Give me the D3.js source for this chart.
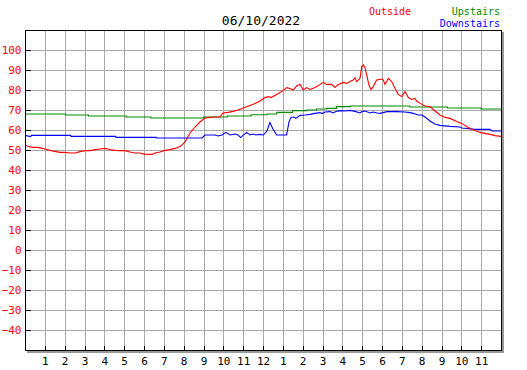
<!DOCTYPE html>
<html>
<head>
<meta charset="utf-8">
<script src="https://cdn.jsdelivr.net/npm/d3@7"></script>
<style>
  html, body { margin: 0; padding: 0; background: #fff; }
  svg { display: block; }
  text { font-family: "DejaVu Sans Mono", "Liberation Mono", monospace; }
</style>
</head>
<body>
<svg id="chart" width="527" height="370"></svg>
<script>
const title = "06/10/2022";
const seriesNames = ["Outside", "Upstairs", "Downstairs"];
const seriesColors = ["#ff0000", "#008c00", "#0000ff"];

const outsideHours = [0,0.15,0.4,0.66,0.86,1.01,1.26,1.51,1.76,2.02,2.27,2.52,2.77,3.03,3.28,3.53,3.78,4.03,4.18,4.29,4.54,4.79,5.04,5.29,5.55,5.8,6.05,6.4,6.55,6.81,7.06,7.31,7.56,7.82,8.07,8.32,8.57,8.82,9.08,9.33,9.58,9.83,9.98,10.24,10.49,10.74,10.94,11.14,11.34,11.6,11.85,12.1,12.27,12.4,12.69,12.94,13.2,13.36,13.53,13.7,13.87,14.03,14.2,14.37,14.62,14.79,15.04,15.21,15.46,15.63,15.8,16.05,16.22,16.39,16.55,16.64,16.72,16.89,16.98,17.06,17.14,17.23,17.34,17.45,17.56,17.73,17.99,18.07,18.15,18.32,18.49,18.66,18.82,18.99,19.16,19.25,19.33,19.5,19.66,19.75,19.92,20.17,20.42,20.67,20.92,21.18,21.43,21.77,22.02,22.19,22.44,22.69,22.94,23.19,23.45,23.7,24];
const outsideTemps = [52.8,51.7,51.3,51.3,50.8,50.5,49.8,49.3,48.8,48.8,48.5,48.5,49.2,49.7,49.7,50.2,50.5,50.8,50.5,50.2,49.8,49.7,49.7,49.0,48.5,48.5,47.8,47.8,48.5,49.0,49.8,50.2,50.8,51.7,54.0,58.5,61.5,64.0,66.0,66.3,66.5,66.5,68.5,68.8,69.3,70.0,70.7,71.5,72.3,73.3,74.5,76.2,76.7,76.2,77.8,79.2,81.2,80.8,80.0,82.2,82.8,80.0,81.2,80.3,81.3,82.2,83.8,82.8,82.8,81.3,82.8,83.8,83.3,84.2,85.0,86.2,84.2,85.8,91.7,92.5,91.2,87.5,82.5,80.3,81.7,85.0,85.5,85.0,82.8,85.8,84.2,80.8,77.8,76.7,79.2,77.8,76.2,75.3,75.8,74.5,73.3,72.0,71.7,69.5,67.5,66.3,65.8,64.2,63.3,62.2,60.8,59.7,58.8,58.3,57.8,57.2,56.8];

const upstairsHours = [0,2.05,3.2,5.1,6.35,9.0,10.2,11.4,12.2,12.7,13.5,14.2,14.7,15.2,15.7,16.4,19.4,21.3,23.0,24];
const upstairsTemps = [68,67.5,67,66.5,66,66.5,67,67.6,68,68.8,69.7,70,70.5,70.8,71.7,72,71.5,71,70.5,70.5];

const downstairsHours = [0,0.28,0.33,2.3,2.32,4.57,4.59,6.62,6.64,8.92,9.08,9.58,9.73,9.93,10.13,10.34,10.59,10.74,10.88,10.99,11.18,11.34,11.5,11.65,11.85,12.02,12.2,12.35,12.5,12.69,13.19,13.31,13.41,13.56,13.66,13.87,14.12,14.37,14.62,14.87,14.97,15.13,15.38,15.53,15.68,15.88,16.13,16.39,16.64,16.89,16.99,17.14,17.4,17.55,17.75,17.9,18.25,18.76,19.16,19.41,19.61,19.82,20.02,20.17,20.42,20.67,20.92,21.43,21.93,22.03,22.69,23.45,23.55,24];
const downstairsTemps = [57.3,56.7,57.3,57.3,56.8,56.8,56.3,56.3,56.0,56.0,57.5,57.5,57.0,57.5,58.8,57.5,58.0,57.5,56.2,57.3,58.8,57.5,58.0,57.5,57.8,57.5,59.5,63.8,60.5,57.5,57.5,64.0,66.3,66.5,65.8,67.3,67.5,67.8,68.3,68.7,68.2,69.0,69.2,68.5,69.3,69.7,69.5,69.8,69.3,68.5,69.2,69.5,68.5,69.0,68.5,68.3,69.2,69.2,69.0,68.7,68.2,67.5,67.5,66.5,64.5,63.0,62.3,61.8,61.5,61.0,60.3,60.3,59.5,59.5];

const yTickValues = [-40,-30,-20,-10,0,10,20,30,40,50,60,70,80,90,100];
const xTickValues = [1,2,3,4,5,6,7,8,9,10,11,12,13,14,15,16,17,18,19,20,21,22,23];
const xTickLabels = ["1","2","3","4","5","6","7","8","9","10","11","12","1","2","3","4","5","6","7","8","9","10","11"];

const svg = d3.select("#chart");
const L = 25, R = 501, T = 30, B = 350;
const x = d3.scaleLinear().domain([0, 24]).range([L, R]);
const y = d3.scaleLinear().domain([-50, 110]).range([B, T]);

// shadow
svg.append("rect").attr("x", L + 2).attr("y", T + 2).attr("width", R - L + 1).attr("height", B - T + 1)
  .attr("fill", "#999");
svg.append("rect").attr("x", L).attr("y", T).attr("width", R - L).attr("height", B - T).attr("fill", "#fff");

// grid
const grid = svg.append("g").attr("shape-rendering", "crispEdges").attr("stroke", "#a8a8a8").attr("stroke-width", 1);
xTickValues.forEach(h => {
  const px = Math.round(x(h)) + 0.5;
  grid.append("line").attr("x1", px).attr("x2", px).attr("y1", T).attr("y2", B);
});
yTickValues.forEach(v => {
  const py = Math.round(y(v)) + 0.5;
  grid.append("line").attr("x1", L).attr("x2", R).attr("y1", py).attr("y2", py);
});

// axes
const yAxis = d3.axisLeft(y).tickValues(yTickValues).tickSize(-5).tickPadding(4);
const gy = svg.append("g").attr("transform", `translate(${L + 0.5},0)`).call(yAxis);
gy.select(".domain").remove();
gy.selectAll(".tick line").attr("stroke", "#000").attr("shape-rendering", "crispEdges");
gy.selectAll(".tick text").attr("fill", "#ff0000").attr("font-size", 11)
  .attr("font-family", "DejaVu Sans Mono, monospace");

const xAxis = d3.axisBottom(x).tickValues(xTickValues).tickSize(-5).tickPadding(7)
  .tickFormat((d, i) => xTickLabels[i]);
const gx = svg.append("g").attr("transform", `translate(0,${B + 0.5})`).call(xAxis);
gx.select(".domain").remove();
gx.selectAll(".tick line").attr("stroke", "#000").attr("shape-rendering", "crispEdges");
gx.selectAll(".tick text").attr("fill", "#000").attr("font-size", 11)
  .attr("font-family", "DejaVu Sans Mono, monospace");

// lines
const series = [
  {hours: upstairsHours, temps: upstairsTemps, color: seriesColors[1], curve: d3.curveStepAfter},
  {hours: downstairsHours, temps: downstairsTemps, color: seriesColors[2], curve: d3.curveLinear},
  {hours: outsideHours, temps: outsideTemps, color: seriesColors[0], curve: d3.curveLinear}
];
series.forEach(s => {
  const pts = s.hours.map((h, i) => [h, s.temps[i]]);
  const line = d3.line().x(d => x(d[0])).y(d => y(d[1])).curve(s.curve);
  svg.append("path").datum(pts).attr("d", line)
    .attr("fill", "none").attr("stroke", s.color).attr("stroke-width", 1.1);
});

// frame
svg.append("rect").attr("x", L + 0.5).attr("y", T + 0.5).attr("width", R - L).attr("height", B - T)
  .attr("fill", "none").attr("stroke", "#000").attr("stroke-width", 1).attr("shape-rendering", "crispEdges");

// title
svg.append("text").attr("x", 261).attr("y", 25).attr("text-anchor", "middle")
  .attr("font-size", 13).attr("fill", "#000").text(title);

// legend
svg.append("text").attr("x", 369).attr("y", 15).attr("font-size", 10).attr("fill", seriesColors[0]).text(seriesNames[0]);
svg.append("text").attr("x", 500).attr("y", 15).attr("text-anchor", "end").attr("font-size", 10).attr("fill", seriesColors[1]).text(seriesNames[1]);
svg.append("text").attr("x", 500).attr("y", 27).attr("text-anchor", "end").attr("font-size", 10).attr("fill", seriesColors[2]).text(seriesNames[2]);
</script>
</body>
</html>
